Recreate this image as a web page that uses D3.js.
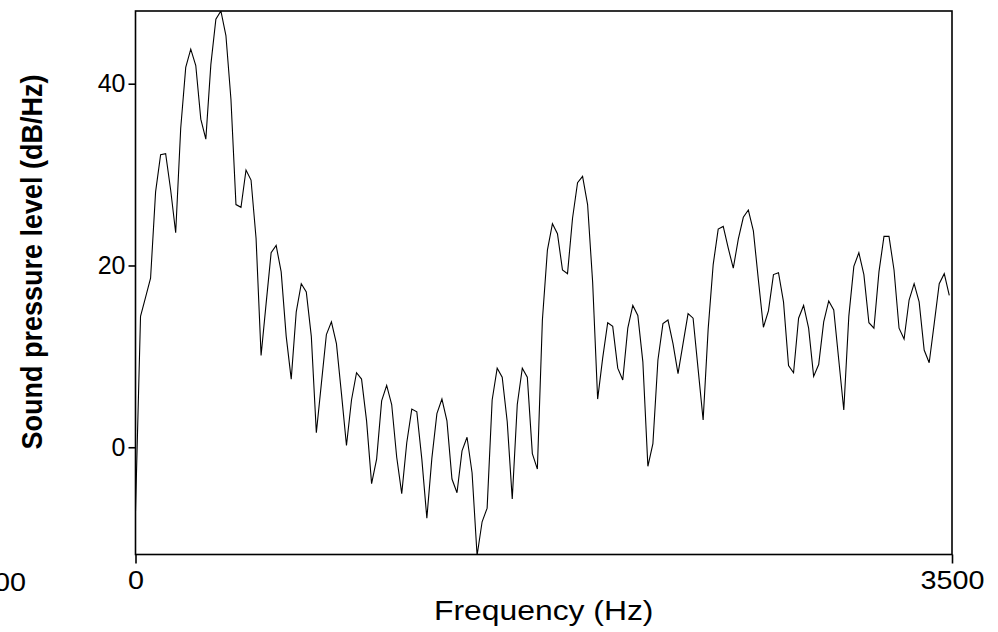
<!DOCTYPE html>
<html>
<head>
<meta charset="utf-8">
<script src="https://cdn.jsdelivr.net/npm/d3@7"></script>
<style>
  body { margin: 0; background: #fff; }
  svg { display: block; }
</style>
</head>
<body>
<svg id="chart" width="998" height="632"></svg>
<script>
// spectrum bins, 44100/2048 Hz apart
const binWidth = 21.533;
const levels = [
  -7.0, 14.4, 16.5, 18.6, 28.1, 32.2, 32.3, 28.3, 23.6, 35.1,
  41.8, 43.8, 42.0, 36.1, 33.9, 42.1, 47.1, 48.0, 45.3, 38.3,
  26.7, 26.4, 30.5, 29.4, 23.0, 10.1, 15.8, 21.4, 22.2, 19.3,
  12.2, 7.5, 14.9, 18.0, 17.1, 12.2, 1.6, 7.0, 12.4, 13.8,
  11.4, 5.9, 0.2, 5.2, 8.2, 7.5, 2.9, -4.0, -1.3, 5.1,
  6.8, 4.7, -1.1, -5.1, 0.5, 4.2, 3.9, -1.3, -7.8, -1.2,
  3.7, 5.3, 2.9, -3.5, -5.0, -0.4, 1.1, -2.8, -11.9, -8.2,
  -6.7, 5.2, 8.7, 7.7, 2.8, -5.7, 4.7, 8.7, 7.7, -0.7,
  -2.4, 14.0, 21.7, 24.6, 23.5, 19.5, 19.1, 25.2, 29.1, 29.8,
  26.7, 18.2, 5.3, 9.8, 13.7, 13.3, 8.7, 7.4, 13.1, 15.6,
  14.5, 9.4, -2.1, 0.4, 9.6, 13.6, 14.0, 11.4, 8.1, 11.4,
  14.7, 14.2, 8.6, 3.0, 13.0, 20.1, 24.0, 24.3, 21.9, 19.7,
  22.9, 25.3, 26.1, 23.8, 18.4, 13.2, 15.0, 19.0, 19.2, 16.0,
  9.0, 8.2, 14.2, 15.6, 13.1, 7.8, 9.1, 13.8, 16.1, 15.1,
  9.6, 4.1, 14.4, 19.9, 21.4, 19.0, 13.7, 13.1, 19.3, 23.2,
  23.2, 19.5, 13.1, 11.9, 16.2, 18.0, 16.0, 10.7, 9.3, 13.6,
  18.0, 19.1, 16.7
];

const freqRange = [0, 3500];
const levelRange = [-11.8, 48.0];
const yTicks = [0, 20, 40];
const xTicks = [0, 3500];

const svg = d3.select("#chart");
const plot = { left: 135.5, right: 952, top: 11, bottom: 554.5 };
const font = "'Liberation Sans', Arial, Helvetica, sans-serif";

const x = d3.scaleLinear().domain(freqRange).range([plot.left, plot.right]);
const y = d3.scaleLinear().domain(levelRange).range([plot.bottom, plot.top]);

svg.append("defs").append("clipPath").attr("id", "plotclip")
  .append("rect")
    .attr("x", plot.left).attr("y", plot.top)
    .attr("width", plot.right - plot.left).attr("height", plot.bottom - plot.top);

// spectrum line
const line = d3.line()
  .x((d, i) => x(i * binWidth))
  .y(d => y(d));

svg.append("path")
  .datum(levels)
  .attr("clip-path", "url(#plotclip)")
  .attr("d", line)
  .attr("fill", "none")
  .attr("stroke", "#000")
  .attr("stroke-width", 1.1)
  .attr("stroke-linejoin", "miter");

// frame
svg.append("rect")
  .attr("x", plot.left).attr("y", plot.top)
  .attr("width", plot.right - plot.left).attr("height", plot.bottom - plot.top)
  .attr("fill", "none")
  .attr("stroke", "#000")
  .attr("stroke-width", 1.6);

// y axis
const yAxis = d3.axisLeft(y).tickValues(yTicks).tickSize(7).tickPadding(3);
const gy = svg.append("g").attr("transform", `translate(${plot.left},0)`).call(yAxis);
gy.select(".domain").remove();
gy.selectAll(".tick line").attr("stroke", "#000").attr("stroke-width", 1.6);
gy.selectAll(".tick text")
  .attr("font-family", font)
  .attr("font-size", 25)
  .attr("fill", "#000");

// x axis
const xAxis = d3.axisBottom(x).tickValues(xTicks).tickFormat(d3.format("d"))
  .tickSize(9).tickPadding(8);
const gx = svg.append("g").attr("transform", `translate(0,${plot.bottom})`).call(xAxis);
gx.select(".domain").remove();
gx.selectAll(".tick line").attr("stroke", "#000").attr("stroke-width", 1.6);
gx.selectAll(".tick text")
  .attr("font-family", font)
  .attr("font-size", 25)
  .attr("transform", "scale(1.15,1)")
  .attr("fill", "#000");

// stray label from neighbouring panel, cut by the left edge
svg.append("text")
  .attr("transform", "translate(26,591) scale(1.15,1)")
  .attr("text-anchor", "end")
  .attr("font-family", font)
  .attr("font-size", 25)
  .text("3500");

svg.append("text")
  .attr("transform", `translate(${(plot.left + plot.right) / 2},620) scale(1.18,1)`)
  .attr("text-anchor", "middle")
  .attr("font-family", font)
  .attr("font-size", 27)
  .text("Frequency (Hz)");

svg.append("text")
  .attr("transform", "translate(34,262) scale(1.08,1) rotate(-90)")
  .attr("text-anchor", "middle")
  .attr("dominant-baseline", "middle")
  .attr("font-family", font)
  .attr("font-weight", "bold")
  .attr("font-size", 27)
  .text("Sound pressure level (dB/Hz)");
</script>
</body>
</html>
